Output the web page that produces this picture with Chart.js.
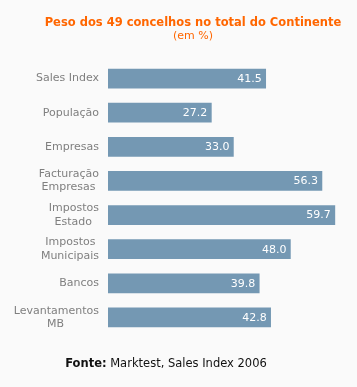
<!DOCTYPE html>
<html>
<head>
<meta charset="utf-8">
<script src="https://cdn.jsdelivr.net/npm/chart.js@4/dist/chart.umd.min.js"></script>
<style>
  html, body { margin: 0; padding: 0; background: #fafafa; }
  #wrap { position: relative; width: 357px; height: 387px; }
  canvas { position: absolute; left: 0; top: 0; }
  .txt { position: absolute; text-align: center; white-space: nowrap;
         font-family: "DejaVu Sans", Verdana, sans-serif; line-height: 14px; }
  #title { left: 43px; width: 300px; top: 15px; font-size: 11.5px; font-weight: bold; color: #ff6600; }
  #subtitle { left: 43px; width: 300px; top: 29px; font-size: 11px; color: #ff6600; }
  #footer { left: 0; width: 332px; top: 356px; font-size: 11.5px; color: #111; }
</style>
</head>
<body>
<div id="wrap">
  <canvas id="c" width="357" height="387"></canvas>
  <div class="txt" id="title"></div>
  <div class="txt" id="subtitle"></div>
  <div class="txt" id="footer"><b>Fonte:</b> Marktest, Sales Index 2006</div>
</div>
<script>
const categories = [
  ["Sales Index"],
  ["População"],
  ["Empresas"],
  ["Facturação", "Empresas"],
  ["Impostos", "Estado"],
  ["Impostos", "Municipais"],
  ["Bancos"],
  ["Levantamentos", "MB"]
];
const values = [41.5, 27.2, 33.0, 56.3, 59.7, 48.0, 39.8, 42.8];
const titleText = "Peso dos 49 concelhos no total do Continente";
const subtitleText = "(em %)";

document.getElementById('title').textContent = titleText;
document.getElementById('subtitle').textContent = subtitleText;

const FONT = '"DejaVu Sans", Verdana, sans-serif';

// center lines of multi-line labels by padding with trailing spaces
const mctx = document.createElement('canvas').getContext('2d');
mctx.font = '11px ' + FONT;
const spaceW = mctx.measureText(' ').width;
function centerLines(lines) {
  if (lines.length < 2) return lines[0];
  const ws = lines.map(l => mctx.measureText(l).width);
  const mx = Math.max(...ws);
  return lines.map((l, i) => l + ' '.repeat(Math.round((mx - ws[i]) / 2 / spaceW)));
}

const valueLabels = {
  id: 'valueLabels',
  afterDatasetsDraw(chart) {
    const ctx = chart.ctx;
    const meta = chart.getDatasetMeta(0);
    ctx.save();
    ctx.font = '11px ' + FONT;
    ctx.fillStyle = '#ffffff';
    ctx.textAlign = 'right';
    ctx.textBaseline = 'middle';
    meta.data.forEach((bar, i) => {
      ctx.fillText(values[i].toFixed(1), bar.x - 4, bar.y + 0.5);
    });
    ctx.restore();
  }
};

new Chart(document.getElementById('c'), {
  type: 'bar',
  data: {
    labels: categories.map(centerLines),
    datasets: [{
      data: values,
      backgroundColor: '#7498b3',
      borderWidth: 0,
      barThickness: 19
    }]
  },
  options: {
    indexAxis: 'y',
    responsive: false,
    animation: false,
    events: [],
    layout: { padding: { left: 0, right: 21, top: 61.5, bottom: 52.5 } },
    plugins: {
      legend: { display: false },
      tooltip: { enabled: false },
      title: { display: false },
      subtitle: { display: false }
    },
    scales: {
      x: {
        display: false,
        min: 0,
        max: 60
      },
      y: {
        grid: { display: false, drawTicks: false },
        border: { display: false },
        afterFit(scale) { scale.width = 108; },
        ticks: {
          color: '#7f7f7f',
          padding: 9,
          font: { family: FONT, size: 11 }
        }
      }
    }
  },
  plugins: [valueLabels]
});
</script>
</body>
</html>
